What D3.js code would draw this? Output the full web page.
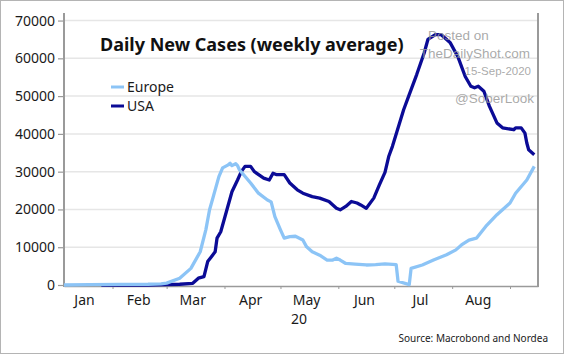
<!DOCTYPE html>
<html>
<head>
<meta charset="utf-8">
<script src="https://cdn.jsdelivr.net/npm/d3@7"></script>
<style>
  html, body { margin: 0; padding: 0; background: #fff; }
  #chart { width: 564px; height: 354px; }
</style>
</head>
<body>
<div id="chart"></div>
<script>
// Chart data
const europeDates = ['2020-01-06','2020-01-20','2020-02-05','2020-02-20','2020-02-27','2020-03-01','2020-03-08','2020-03-14','2020-03-19','2020-03-22','2020-03-24','2020-03-26','2020-03-29','2020-03-31','2020-04-03','2020-04-04','2020-04-05','2020-04-07','2020-04-08','2020-04-09','2020-04-15','2020-04-19','2020-04-24','2020-04-26','2020-04-28','2020-05-01','2020-05-03','2020-05-06','2020-05-09','2020-05-13','2020-05-15','2020-05-18','2020-05-22','2020-05-26','2020-05-29','2020-05-31','2020-06-02','2020-06-05','2020-06-10','2020-06-16','2020-06-21','2020-06-26','2020-07-02','2020-07-03','2020-07-09','2020-07-10','2020-07-16','2020-07-22','2020-07-29','2020-08-03','2020-08-06','2020-08-10','2020-08-14','2020-08-19','2020-08-25','2020-09-01','2020-09-04','2020-09-10','2020-09-14'];
const europeValues = [0, 100, 150, 200, 300, 500, 1780, 4400, 8800, 14600, 19900, 23400, 28700, 31000, 31800, 32200, 31600, 32100, 31600, 30500, 27000, 24400, 22500, 22000, 18100, 14600, 12400, 12800, 12900, 11900, 10100, 8800, 7900, 6600, 6600, 7100, 6600, 5700, 5500, 5300, 5400, 5600, 5400, 1000, 100, 4400, 5300, 6600, 8000, 9300, 10600, 11900, 12400, 15500, 18600, 21700, 24300, 27800, 31400];

const usaDates = ['2020-01-26','2020-02-20','2020-03-01','2020-03-08','2020-03-15','2020-03-18','2020-03-21','2020-03-23','2020-03-25','2020-03-27','2020-03-28','2020-03-30','2020-04-02','2020-04-05','2020-04-08','2020-04-10','2020-04-12','2020-04-15','2020-04-17','2020-04-22','2020-04-25','2020-04-27','2020-04-29','2020-05-03','2020-05-06','2020-05-10','2020-05-13','2020-05-18','2020-05-22','2020-05-27','2020-05-31','2020-06-02','2020-06-05','2020-06-08','2020-06-11','2020-06-13','2020-06-16','2020-06-20','2020-06-23','2020-06-26','2020-06-28','2020-06-30','2020-07-06','2020-07-09','2020-07-13','2020-07-17','2020-07-19','2020-07-23','2020-07-26','2020-07-31','2020-08-04','2020-08-08','2020-08-11','2020-08-13','2020-08-15','2020-08-18','2020-08-21','2020-08-25','2020-08-28','2020-09-03','2020-09-04','2020-09-07','2020-09-09','2020-09-10','2020-09-11','2020-09-14'];
const usaValues = [0, 0, 80, 200, 450, 1800, 2200, 6200, 7500, 8800, 12400, 14100, 19400, 24700, 27800, 30000, 31400, 31400, 30000, 28300, 27800, 29600, 29200, 29200, 27000, 25200, 24300, 23400, 23000, 22100, 20300, 19900, 20800, 22100, 21700, 21200, 20300, 23000, 26500, 29800, 34000, 36700, 46400, 50400, 55700, 61400, 65000, 66300, 66300, 64100, 60500, 55200, 52600, 52200, 52600, 51300, 47300, 42900, 41600, 41100, 41600, 41600, 40200, 37600, 35800, 34500];

const yTicks = [0, 10000, 20000, 30000, 40000, 50000, 60000, 70000];
const monthLabels = ['Jan', 'Feb', 'Mar', 'Apr', 'May', 'Jun', 'Jul', 'Aug'];
const seriesNames = ['Europe', 'USA'];
const seriesColors = ['#8cc4f6', '#0b0b96'];

const width = 564;
const height = 354;
const parse = d3.timeParse('%Y-%m-%d');

const svg = d3.select('#chart')
    .append('svg')
    .attr('width', width)
    .attr('height', height);

// Outer frame
svg.append('rect')
    .attr('x', 0.5).attr('y', 0.5)
    .attr('width', width - 1).attr('height', height - 1)
    .attr('fill', '#fff')
    .attr('stroke', '#b4b4b4');

// Scales
const x = d3.scaleTime()
    .domain([new Date(2020, 0, 6), new Date(2020, 8, 16)])
    .range([64, 538]);
const y = d3.scaleLinear()
    .domain([0, 72000])
    .range([285, 13]);

// Grid lines
svg.append('g')
    .selectAll('line')
    .data(yTicks.filter(d => d > 0))
    .enter()
    .append('line')
    .attr('x1', 64).attr('x2', 538)
    .attr('y1', d => y(d)).attr('y2', d => y(d))
    .attr('stroke', '#e6e6e6')
    .attr('stroke-width', 1.5);

// Y axis
const yAxis = svg.append('g')
    .attr('transform', 'translate(64,0)')
    .call(d3.axisLeft(y).tickValues(yTicks).tickFormat(d3.format('d')).tickSize(6).tickPadding(3));
yAxis.select('.domain').remove();
yAxis.selectAll('line').attr('stroke', '#999').attr('stroke-width', 1.2);
yAxis.selectAll('text')
    .style('font-family', '"Noto Sans", sans-serif')
    .style('font-size', '14px')
    .attr('fill', '#1a1a1a');

// Left, right and bottom axis lines
svg.append('line')
    .attr('x1', 64).attr('x2', 64).attr('y1', 13).attr('y2', 287)
    .attr('stroke', '#9a9a9a').attr('stroke-width', 2);
svg.append('line')
    .attr('x1', 538).attr('x2', 538).attr('y1', 13).attr('y2', 287)
    .attr('stroke', '#9a9a9a').attr('stroke-width', 2);

// X axis with ticks on month starts
const months = d3.timeMonth.range(new Date(2020, 1, 1), new Date(2020, 8, 2));
const xAxis = svg.append('g')
    .attr('transform', 'translate(0,286)')
    .call(d3.axisBottom(x).tickValues(months).tickFormat('').tickSize(3).tickSizeOuter(0));
xAxis.select('.domain').attr('stroke', '#9a9a9a').attr('stroke-width', 1.5);
xAxis.selectAll('line').attr('stroke', '#9a9a9a');

// Month labels centred mid-month
svg.append('g')
    .selectAll('text')
    .data(monthLabels)
    .enter()
    .append('text')
    .attr('x', (d, i) => x(new Date(2020, i, i === 0 ? 17 : 15)))
    .attr('y', 305)
    .attr('text-anchor', 'middle')
    .style('font-family', '"Noto Sans", sans-serif')
    .style('font-size', '14px')
    .attr('fill', '#1a1a1a')
    .text(d => d);

svg.append('text')
    .attr('x', x(new Date(2020, 4, 11)))
    .attr('y', 324)
    .attr('text-anchor', 'middle')
    .style('font-family', '"Noto Sans", sans-serif')
    .style('font-size', '14px')
    .attr('fill', '#1a1a1a')
    .text('20');

// Lines
const line = d3.line()
    .x(d => x(d.date))
    .y(d => y(d.value));

const usa = usaDates.map((d, i) => ({ date: parse(d), value: usaValues[i] }));
const europe = europeDates.map((d, i) => ({ date: parse(d), value: europeValues[i] }));

svg.append('path')
    .datum(usa)
    .attr('d', line)
    .attr('fill', 'none')
    .attr('stroke', seriesColors[1])
    .attr('stroke-width', 3.3)
    .attr('stroke-linejoin', 'round');

svg.append('path')
    .datum(europe)
    .attr('d', line)
    .attr('fill', 'none')
    .attr('stroke', seriesColors[0])
    .attr('stroke-width', 3.3)
    .attr('stroke-linejoin', 'round');

// Title
svg.append('text')
    .attr('x', 100)
    .attr('y', 51)
    .style('font-family', '"Noto Sans", sans-serif')
    .style('font-size', '18px')
    .style('font-weight', 'bold')
    .attr('fill', '#111')
    .text('Daily New Cases (weekly average)');

// Legend
seriesNames.forEach((name, i) => {
    const ly = 87 + i * 19;
    svg.append('line')
        .attr('x1', 111).attr('x2', 124)
        .attr('y1', ly).attr('y2', ly)
        .attr('stroke', seriesColors[i])
        .attr('stroke-width', 3);
    svg.append('text')
        .attr('x', 127)
        .attr('y', ly + 5)
        .style('font-family', '"Noto Sans", sans-serif')
        .style('font-size', '14px')
        .attr('fill', '#1a1a1a')
        .text(name);
});

// Watermark
const mark = [
    { t: 'Posted on', x: 428, y: 40, a: 'start' },
    { t: 'TheDailyShot.com', x: 530, y: 58, a: 'end' },
    { t: '15-Sep-2020', x: 531, y: 75, a: 'end' },
    { t: '@SoberLook', x: 534, y: 103, a: 'end' }
];
mark.forEach(m => {
    svg.append('text')
        .attr('x', m.x)
        .attr('y', m.y)
        .attr('text-anchor', m.a)
        .style('font-family', '"Liberation Sans", Arial, sans-serif')
        .style('font-size', m.t === '15-Sep-2020' ? '11.5px' : '13.5px')
        .attr('fill', '#9a9a9a')
        .attr('fill-opacity', 0.85)
        .text(m.t);
});

// Source
svg.append('text')
    .attr('x', 548)
    .attr('y', 342)
    .attr('text-anchor', 'end')
    .style('font-family', '"Noto Sans", sans-serif')
    .style('font-size', '10px')
    .attr('fill', '#1a1a1a')
    .text('Source: Macrobond and Nordea');
</script>
</body>
</html>
